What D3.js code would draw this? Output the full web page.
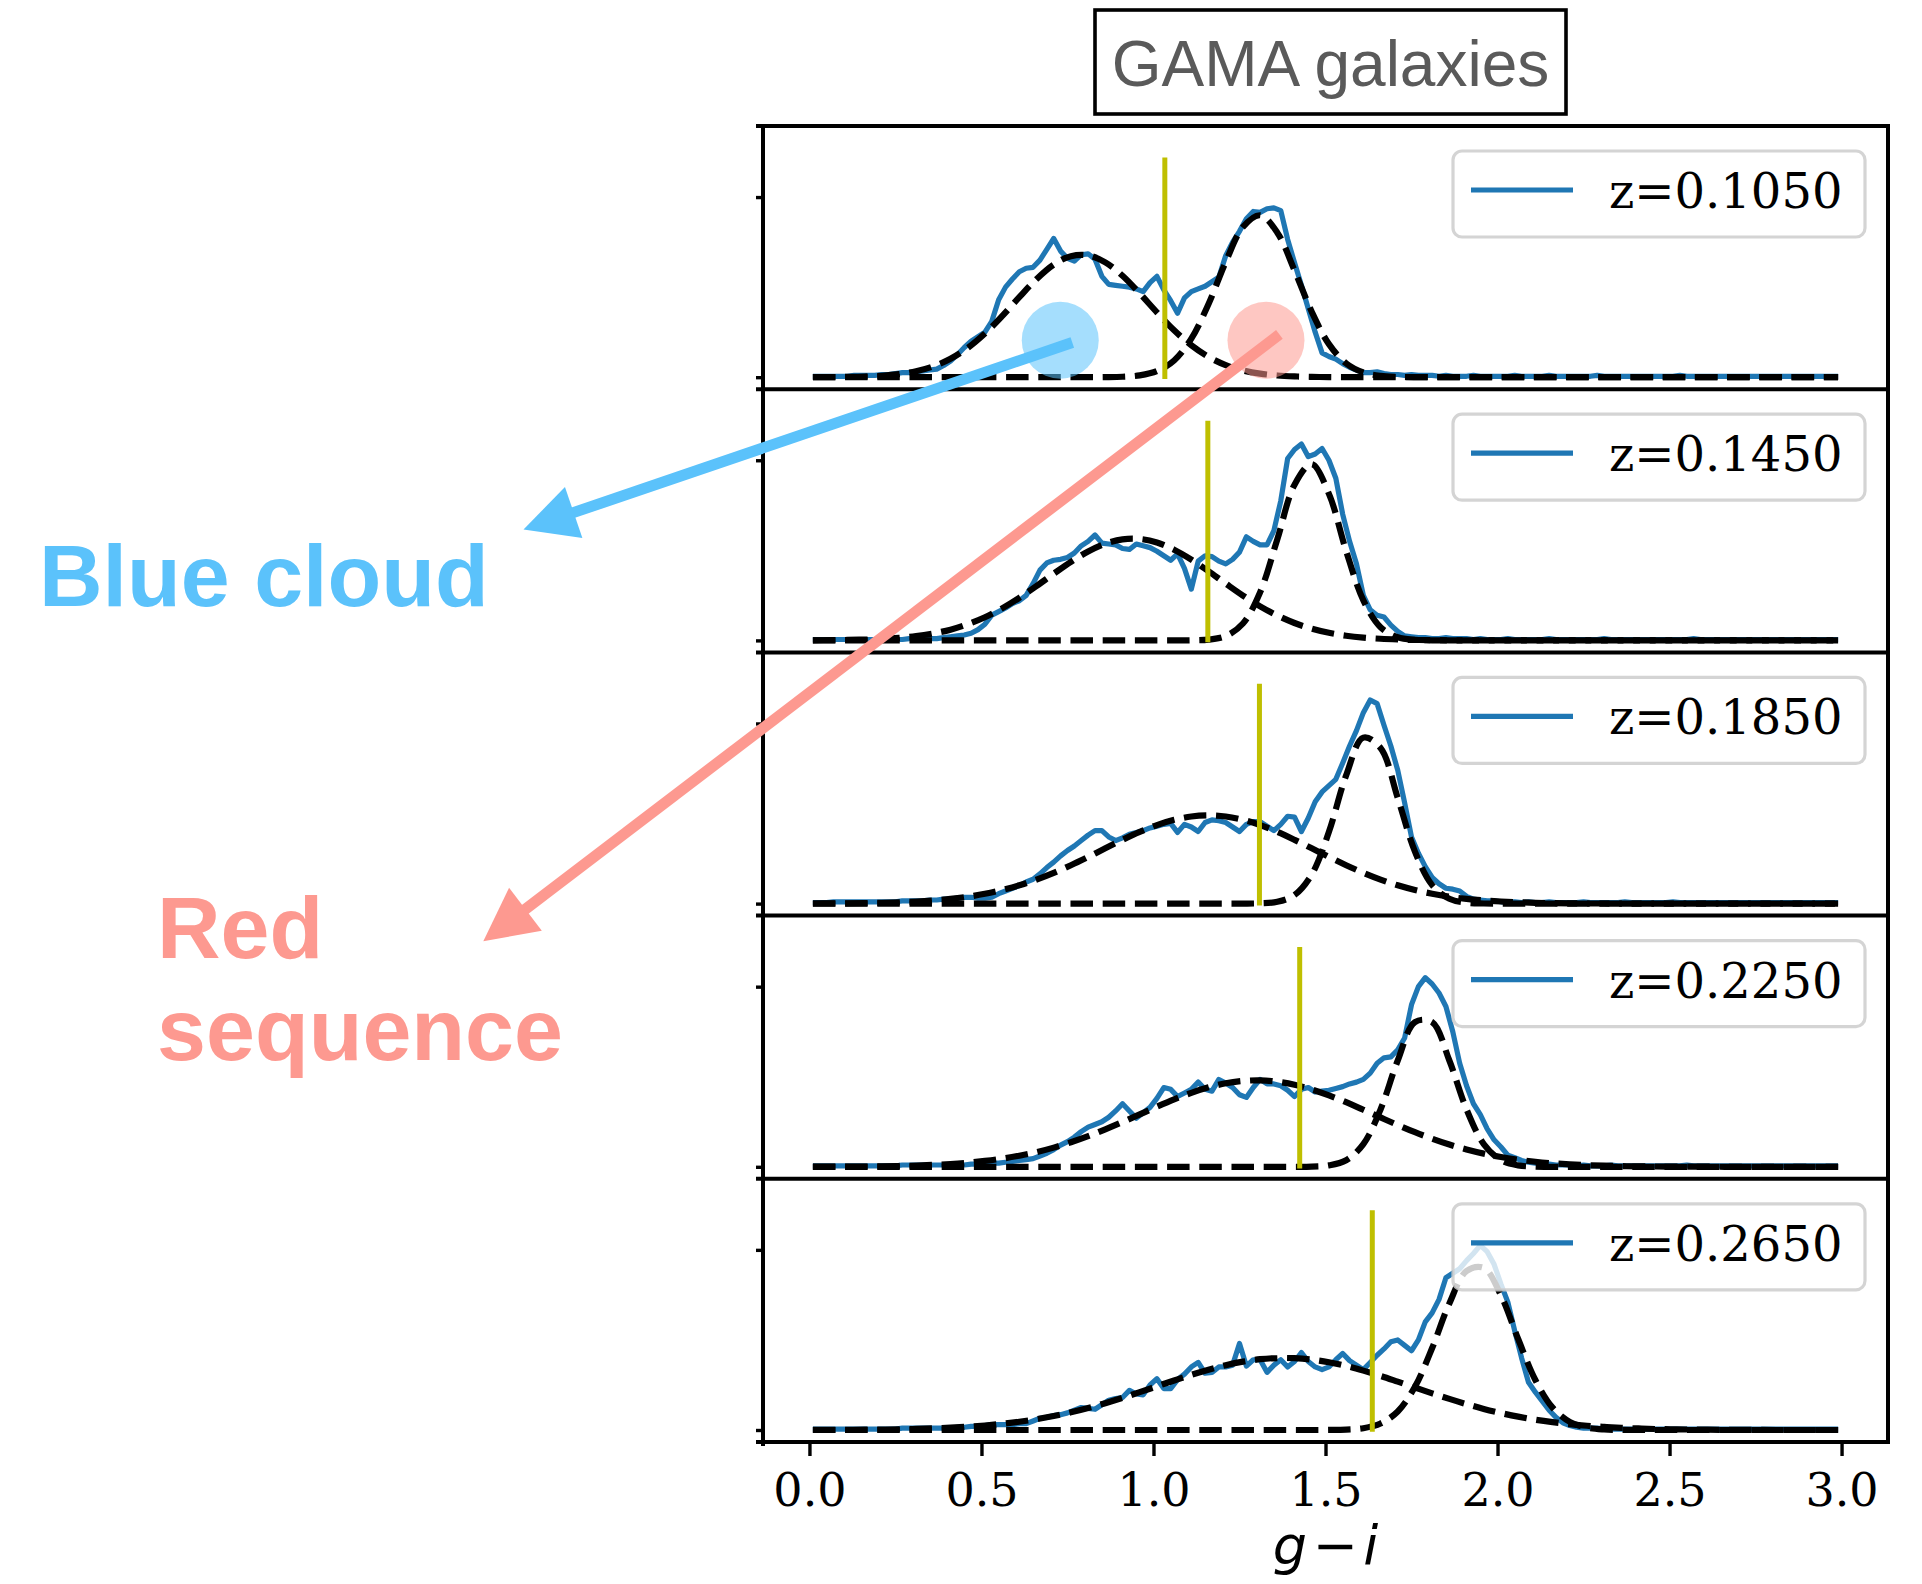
<!DOCTYPE html>
<html>
<head>
<meta charset="utf-8">
<script src="https://cdn.jsdelivr.net/npm/d3@7"></script>
<style>
  html, body { margin: 0; padding: 0; background: #ffffff; }
  svg { display: block; }
</style>
</head>
<body>
<svg id="fig" width="1922" height="1584"></svg>
<script>
// ---------------------------------------------------------------
// GAMA g-i colour distributions in five redshift slices
// ---------------------------------------------------------------

// redshift of each slice (legend labels)
const redshifts = ["0.1050", "0.1450", "0.1850", "0.2250", "0.2650"];

// colour cut separating blue cloud and red sequence, one per slice
const colourCut = [1.033, 1.158, 1.308, 1.425, 1.636];

// axis ticks
const xTicks = [0, 0.5, 1.0, 1.5, 2.0, 2.5, 3.0];
const yTicks = [0, 2];

// normalised g-i histograms, bin centres 0.01 ... 2.99 (width 0.02)
const histP1 = [
  0.01,0.01,0.01,0.01,0.01,0.01,0.02,0.02,0.02,0.02,
  0.03,0.03,0.04,0.05,0.05,0.06,0.07,0.08,0.09,0.13,
  0.18,0.25,0.33,0.40,0.45,0.50,0.62,0.86,1.00,1.09,
  1.17,1.21,1.22,1.30,1.42,1.54,1.40,1.32,1.29,1.36,
  1.37,1.31,1.12,1.03,1.02,1.01,1.00,0.98,0.95,1.05,
  1.12,0.97,0.85,0.71,0.88,0.95,0.98,1.01,1.06,1.11,
  1.35,1.50,1.62,1.76,1.84,1.83,1.87,1.88,1.85,1.53,
  1.27,1.02,0.76,0.50,0.27,0.23,0.20,0.15,0.11,0.08,
  0.05,0.05,0.06,0.04,0.03,0.03,0.02,0.03,0.02,0.02,
  0.02,0.01,0.02,0.01,0.01,0.01,0.02,0.01,0.01,0.01,
  0.01,0.01,0.02,0.01,0.01,0.01,0.01,0.02,0.01,0.01,
  0.01,0.01,0.01,0.01,0.02,0.01,0.01,0.01,0.01,0.01,
  0.01,0.01,0.01,0.01,0.01,0.01,0.02,0.01,0.01,0.01,
  0.01,0.01,0.01,0.01,0.01,0.01,0.01,0.01,0.01,0.01,
  0.01,0.01,0.01,0.01,0.01,0.01,0.01,0.01,0.01,0.01
];
const histP2 = [
  0.01,0.01,0.01,0.01,0.01,0.01,0.01,0.01,0.01,0.01,
  0.01,0.01,0.01,0.01,0.02,0.02,0.02,0.02,0.02,0.03,
  0.04,0.05,0.06,0.08,0.12,0.18,0.28,0.32,0.36,0.41,
  0.44,0.50,0.63,0.78,0.86,0.89,0.90,0.92,0.97,1.05,
  1.10,1.17,1.08,1.07,1.06,1.02,1.01,1.07,1.05,1.03,
  0.99,0.94,0.89,0.96,0.80,0.57,0.88,0.94,0.93,0.88,
  0.85,0.90,0.98,1.15,1.10,1.06,1.06,1.22,1.55,2.02,
  2.12,2.18,2.04,2.07,2.13,2.00,1.80,1.40,1.10,0.85,
  0.50,0.34,0.28,0.26,0.17,0.10,0.05,0.04,0.03,0.03,
  0.02,0.02,0.03,0.02,0.02,0.02,0.01,0.02,0.01,0.01,
  0.01,0.02,0.01,0.01,0.01,0.01,0.01,0.02,0.01,0.01,
  0.01,0.01,0.01,0.01,0.01,0.02,0.01,0.01,0.01,0.01,
  0.01,0.01,0.01,0.01,0.01,0.01,0.01,0.01,0.02,0.01,
  0.01,0.01,0.01,0.01,0.01,0.01,0.01,0.01,0.01,0.01,
  0.01,0.01,0.01,0.01,0.01,0.01,0.01,0.01,0.01,0.01
];
const histP3 = [
  0.01,0.01,0.01,0.02,0.02,0.02,0.02,0.02,0.02,0.02,
  0.02,0.02,0.02,0.03,0.03,0.03,0.03,0.04,0.04,0.05,
  0.05,0.06,0.07,0.07,0.06,0.06,0.07,0.11,0.14,0.17,
  0.20,0.24,0.27,0.33,0.40,0.46,0.53,0.59,0.64,0.70,
  0.76,0.81,0.81,0.74,0.70,0.73,0.77,0.79,0.81,0.84,
  0.86,0.88,0.89,0.79,0.88,0.85,0.80,0.90,0.93,0.92,
  0.90,0.85,0.80,0.88,0.91,0.91,0.86,0.81,0.88,0.97,
  0.96,0.80,0.95,1.13,1.24,1.31,1.38,1.56,1.75,1.92,
  2.12,2.26,2.22,1.98,1.75,1.48,1.12,0.74,0.56,0.41,
  0.29,0.22,0.17,0.16,0.14,0.08,0.05,0.04,0.03,0.03,
  0.02,0.02,0.02,0.01,0.02,0.01,0.01,0.02,0.01,0.01,
  0.01,0.01,0.02,0.01,0.01,0.01,0.01,0.01,0.02,0.01,
  0.01,0.01,0.01,0.01,0.01,0.02,0.01,0.01,0.01,0.01,
  0.01,0.01,0.01,0.01,0.01,0.01,0.01,0.01,0.01,0.01,
  0.01,0.01,0.01,0.01,0.01,0.01,0.01,0.01,0.01,0.01
];
const histP4 = [
  0.01,0.01,0.01,0.01,0.01,0.01,0.01,0.01,0.01,0.01,
  0.01,0.01,0.01,0.02,0.02,0.02,0.02,0.02,0.02,0.02,
  0.02,0.02,0.02,0.03,0.03,0.03,0.04,0.04,0.05,0.06,
  0.07,0.08,0.09,0.12,0.15,0.19,0.24,0.28,0.33,0.39,
  0.44,0.47,0.50,0.55,0.62,0.70,0.62,0.54,0.60,0.66,
  0.76,0.88,0.86,0.78,0.82,0.86,0.94,0.86,0.84,0.97,
  0.93,0.88,0.80,0.77,0.88,0.97,0.92,0.92,0.90,0.85,
  0.78,0.86,0.88,0.83,0.84,0.85,0.87,0.89,0.92,0.94,
  0.97,1.04,1.15,1.21,1.22,1.30,1.43,1.80,2.00,2.10,
  2.03,1.93,1.78,1.50,1.15,0.90,0.70,0.58,0.42,0.30,
  0.22,0.13,0.10,0.07,0.05,0.04,0.03,0.03,0.02,0.02,
  0.02,0.01,0.02,0.01,0.01,0.01,0.02,0.01,0.01,0.01,
  0.01,0.01,0.01,0.01,0.01,0.01,0.01,0.02,0.01,0.01,
  0.01,0.01,0.01,0.01,0.01,0.01,0.01,0.01,0.01,0.01,
  0.01,0.01,0.01,0.01,0.01,0.01,0.01,0.01,0.01,0.01
];
const histP5 = [
  0.01,0.01,0.01,0.01,0.01,0.01,0.01,0.01,0.01,0.01,
  0.01,0.01,0.01,0.02,0.02,0.02,0.02,0.02,0.02,0.02,
  0.02,0.03,0.03,0.04,0.04,0.05,0.06,0.06,0.06,0.06,
  0.07,0.07,0.10,0.13,0.14,0.16,0.17,0.19,0.22,0.25,
  0.24,0.23,0.28,0.33,0.35,0.36,0.44,0.40,0.39,0.50,
  0.57,0.46,0.46,0.56,0.62,0.70,0.75,0.63,0.64,0.70,
  0.70,0.72,0.96,0.71,0.78,0.78,0.64,0.72,0.78,0.70,
  0.76,0.86,0.76,0.70,0.67,0.70,0.78,0.85,0.77,0.72,
  0.67,0.75,0.83,0.90,0.98,1.00,0.94,0.88,1.00,1.20,
  1.30,1.45,1.69,1.74,1.79,1.88,1.96,2.05,1.98,1.84,
  1.62,1.42,1.10,0.80,0.53,0.42,0.32,0.22,0.14,0.08,
  0.05,0.03,0.02,0.02,0.02,0.01,0.01,0.01,0.01,0.01,
  0.01,0.01,0.01,0.01,0.01,0.01,0.01,0.01,0.01,0.01,
  0.01,0.01,0.01,0.01,0.01,0.01,0.01,0.01,0.01,0.01,
  0.01,0.01,0.01,0.01,0.01,0.01,0.01,0.01,0.01,0.01
];

// fitted components sampled at g-i = 0.01, 0.06, ... 2.96, 2.99
const cloudP1 = [
  0.000,0.001,0.003,0.007,0.016,0.034,0.066,0.120,0.204,0.325,
  0.485,0.678,0.888,1.089,1.250,1.344,1.353,1.275,1.126,0.930,
  0.720,0.521,0.354,0.225,0.134,0.075,0.039,0.019,0.009,0.004,
  0.001,0,0,0,0,0,0,0,0,0,
  0,0,0,0,0,0,0,0,0,0,
  0,0,0,0,0,0,0,0,0,0,
  0
];
const seqP1 = [
  0,0,0,0,0,0,0,0,0,0,
  0,0,0,0,0,0,0,0.001,0.005,0.020,
  0.067,0.186,0.428,0.813,1.280,1.667,1.798,1.605,1.186,0.726,
  0.367,0.154,0.053,0.015,0.004,0.001,0,0,0,0,
  0,0,0,0,0,0,0,0,0,0,
  0,0,0,0,0,0,0,0,0,0,
  0
];
const cloudP2 = [
  0.001,0.002,0.005,0.009,0.016,0.028,0.047,0.077,0.119,0.180,
  0.257,0.356,0.473,0.604,0.740,0.872,0.987,1.074,1.122,1.126,
  1.087,1.007,0.897,0.767,0.631,0.498,0.378,0.276,0.193,0.130,
  0.084,0.052,0.031,0.018,0.010,0.005,0.003,0.001,0,0,
  0,0,0,0,0,0,0,0,0,0,
  0,0,0,0,0,0,0,0,0,0,
  0
];
const seqP2 = [
  0,0,0,0,0,0,0,0,0,0,
  0,0,0,0,0,0,0,0,0,0,
  0,0,0.001,0.009,0.048,0.187,0.535,1.123,1.729,1.957,
  1.627,0.992,0.445,0.146,0.035,0.006,0.001,0,0,0,
  0,0,0,0,0,0,0,0,0,0,
  0,0,0,0,0,0,0,0,0,0,
  0
];
const cloudP3 = [
  0.001,0.002,0.003,0.005,0.009,0.015,0.023,0.035,0.052,0.076,
  0.109,0.151,0.203,0.267,0.342,0.426,0.518,0.614,0.708,0.796,
  0.872,0.930,0.967,0.980,0.967,0.930,0.872,0.796,0.708,0.614,
  0.518,0.426,0.342,0.267,0.203,0.151,0.109,0.076,0.052,0.035,
  0.023,0.015,0.009,0.005,0.003,0.002,0.001,0,0,0,
  0,0,0,0,0,0,0,0,0,0,
  0
];
const seqP3 = [
  0,0,0,0,0,0,0,0,0,0,
  0,0,0,0,0,0,0,0,0,0,
  0,0,0,0,0,0,0.003,0.020,0.095,0.323,
  0.797,1.423,1.843,1.728,1.173,0.577,0.205,0.053,0.010,0.001,
  0,0,0,0,0,0,0,0,0,0,
  0,0,0,0,0,0,0,0,0,0,
  0
];
const cloudP4 = [
  0.001,0.001,0.002,0.003,0.006,0.009,0.014,0.021,0.031,0.045,
  0.065,0.090,0.123,0.163,0.213,0.272,0.340,0.416,0.497,0.582,
  0.667,0.748,0.821,0.882,0.927,0.953,0.960,0.945,0.911,0.859,
  0.793,0.717,0.633,0.548,0.464,0.384,0.312,0.247,0.192,0.146,
  0.108,0.079,0.056,0.039,0.027,0.018,0.012,0.007,0.005,0.003,
  0.002,0.001,0.001,0,0,0,0,0,0,0,
  0
];
const seqP4 = [
  0,0,0,0,0,0,0,0,0,0,
  0,0,0,0,0,0,0,0,0,0,
  0,0,0,0,0,0,0,0,0,0.002,
  0.016,0.073,0.252,0.637,1.180,1.607,1.607,1.180,0.637,0.252,
  0.073,0.016,0.002,0,0,0,0,0,0,0,
  0,0,0,0,0,0,0,0,0,0,
  0
];
const cloudP5 = [
  0.001,0.001,0.002,0.003,0.005,0.008,0.012,0.018,0.026,0.036,
  0.050,0.069,0.092,0.120,0.155,0.196,0.244,0.298,0.357,0.420,
  0.485,0.550,0.613,0.670,0.720,0.759,0.786,0.799,0.797,0.782,
  0.752,0.711,0.659,0.601,0.537,0.472,0.407,0.345,0.287,0.234,
  0.188,0.148,0.114,0.087,0.065,0.047,0.034,0.024,0.017,0.011,
  0.008,0.005,0.003,0.002,0.001,0.001,0,0,0,0,
  0
];
const seqP5 = [
  0,0,0,0,0,0,0,0,0,0,
  0,0,0,0,0,0,0,0,0,0,
  0,0,0,0,0,0,0,0,0,0,
  0.001,0.005,0.020,0.072,0.206,0.480,0.910,1.405,1.764,1.800,
  1.495,1.010,0.555,0.248,0.090,0.027,0.006,0.001,0,0,
  0,0,0,0,0,0,0,0,0,0,
  0
];

// height of the colour-cut marker
const cutTop = 2.44;

// ---------------------------------------------------------------
// layout and styles
// ---------------------------------------------------------------
const PLOT = { left: 763, right: 1888, top: 126, panelH: 263.2 };
const Y_DOMAIN = [-0.1333, 2.789];
const COLORS = { data: "#1f77b4", fit: "#000000", cut: "#bfbf00",
                 cloud: "#5bc2fb", seq: "#fd9990" };

const svg = d3.select("#fig");
const x = d3.scaleLinear().domain([-0.135, 3.135]).range([PLOT.left, PLOT.right]);
const histX = d3.range(150).map(i => +(0.01 + 0.02 * i).toFixed(2));
const fitX = d3.range(60).map(i => +(0.01 + 0.05 * i).toFixed(2)).concat([2.99]);

const panels = [
  { z: redshifts[0], hist: histP1, cloud: cloudP1, seq: seqP1, cut: colourCut[0] },
  { z: redshifts[1], hist: histP2, cloud: cloudP2, seq: seqP2, cut: colourCut[1] },
  { z: redshifts[2], hist: histP3, cloud: cloudP3, seq: seqP3, cut: colourCut[2] },
  { z: redshifts[3], hist: histP4, cloud: cloudP4, seq: seqP4, cut: colourCut[3] },
  { z: redshifts[4], hist: histP5, cloud: cloudP5, seq: seqP5, cut: colourCut[4] }
];

const panelScale = k => d3.scaleLinear()
  .domain(Y_DOMAIN)
  .range([PLOT.top + (k + 1) * PLOT.panelH, PLOT.top + k * PLOT.panelH]);

const yScales = panels.map((p, k) => panelScale(k));

panels.forEach((p, k) => {
  const y = yScales[k];
  const top = PLOT.top + k * PLOT.panelH;
  const g = svg.append("g").attr("class", "panel");

  // measured distribution
  g.append("path")
    .datum(p.hist)
    .attr("d", d3.line().x((d, i) => x(histX[i])).y(d => y(d)))
    .attr("fill", "none")
    .attr("stroke", COLORS.data)
    .attr("stroke-width", 5.2)
    .attr("stroke-linejoin", "round");

  // two fitted components
  const fitLine = d3.line()
    .x((d, i) => x(fitX[i]))
    .y(d => y(d))
    .curve(d3.curveCatmullRom);
  [p.cloud, p.seq].forEach(comp => {
    g.append("path")
      .datum(comp)
      .attr("d", fitLine)
      .attr("fill", "none")
      .attr("stroke", COLORS.fit)
      .attr("stroke-width", 6.2)
      .attr("stroke-dasharray", "22.5,9.7")
      .attr("stroke-linejoin", "round");
  });

  // colour cut
  g.append("line")
    .attr("x1", x(p.cut)).attr("x2", x(p.cut))
    .attr("y1", y(-0.02)).attr("y2", y(cutTop))
    .attr("stroke", COLORS.cut)
    .attr("stroke-width", 5);

  // left ticks (no labels)
  const ax = g.append("g")
    .attr("transform", `translate(${PLOT.left},0)`)
    .call(d3.axisLeft(y).tickValues(yTicks).tickSize(7).tickFormat(() => ""));
  ax.select(".domain").remove();
  ax.selectAll(".tick line").attr("stroke", "#000").attr("stroke-width", 3.4);

  // legend
  const lgW = 412, lgH = 86;
  const lgX = PLOT.right - 23 - lgW, lgY = top + 25;
  const lg = g.append("g").attr("class", "legend");
  lg.append("rect")
    .attr("x", lgX).attr("y", lgY).attr("width", lgW).attr("height", lgH)
    .attr("rx", 9).attr("ry", 9)
    .attr("fill", "#ffffff").attr("fill-opacity", 0.8)
    .attr("stroke", "#cccccc").attr("stroke-opacity", 0.85).attr("stroke-width", 3.2);
  lg.append("line")
    .attr("x1", lgX + 18).attr("x2", lgX + 120)
    .attr("y1", lgY + 39).attr("y2", lgY + 39)
    .attr("stroke", COLORS.data).attr("stroke-width", 5.2);
  lg.append("text")
    .attr("x", lgX + 156).attr("y", lgY + 57)
    .attr("font-family", "'DejaVu Serif', serif")
    .attr("font-size", 48)
    .attr("fill", "#000")
    .text("z=" + p.z);
});

// frames of the stacked panels
const frame = svg.append("g").attr("class", "frame")
  .attr("stroke", "#000").attr("stroke-width", 4).attr("fill", "none");
d3.range(panels.length + 1).forEach(k => {
  const yy = PLOT.top + k * PLOT.panelH;
  frame.append("line").attr("x1", PLOT.left - 7).attr("x2", PLOT.right + 2)
    .attr("y1", yy).attr("y2", yy);
});
const bottomY = PLOT.top + panels.length * PLOT.panelH;
frame.append("line").attr("x1", PLOT.left).attr("x2", PLOT.left)
  .attr("y1", PLOT.top - 2).attr("y2", bottomY + 4);
frame.append("line").attr("x1", PLOT.right).attr("x2", PLOT.right)
  .attr("y1", PLOT.top - 2).attr("y2", bottomY + 2);

// shared g-i axis
const xa = svg.append("g")
  .attr("transform", `translate(0,${bottomY})`)
  .call(d3.axisBottom(x).tickValues(xTicks).tickSize(14).tickFormat(d3.format(".1f")));
xa.select(".domain").remove();
xa.selectAll(".tick line").attr("stroke", "#000").attr("stroke-width", 3.4);
xa.selectAll(".tick text")
  .attr("y", 64).attr("dy", null)
  .attr("fill", "#000")
  .attr("font-family", "'DejaVu Serif', serif")
  .attr("font-size", 46);

const xLabel = svg.append("text")
  .attr("x", (PLOT.left + PLOT.right) / 2)
  .attr("y", 1564)
  .attr("text-anchor", "middle")
  .attr("font-family", "'DejaVu Sans', sans-serif")
  .attr("font-size", 54)
  .attr("fill", "#000");
xLabel.append("tspan").attr("font-style", "italic").text("g");
xLabel.append("tspan").attr("dx", "0.1em").text("\u2212");
xLabel.append("tspan").attr("dx", "0.1em").attr("font-style", "italic").text("i");

// title box
svg.append("rect")
  .attr("x", 1095).attr("y", 10).attr("width", 471).attr("height", 104)
  .attr("fill", "#ffffff").attr("stroke", "#000").attr("stroke-width", 3.6);
svg.append("text")
  .attr("x", 1330.5).attr("y", 86)
  .attr("text-anchor", "middle")
  .attr("font-family", "'Liberation Sans', Arial, Helvetica, sans-serif")
  .attr("font-size", 64)
  .attr("fill", "#5a5a5a")
  .text("GAMA galaxies");

// ---------------------------------------------------------------
// population call-outs: halo on the first panel, arrow to a label
// ---------------------------------------------------------------
const calloutNames = [["Blue cloud"], ["Red", "sequence"]];
const calloutAnchor = [[0.729, 0.41], [1.327, 0.41]];   // g-i, density in slice 1
const calloutTail = [[0.764, 0.385], [1.366, 0.475]];
const calloutStyle = [
  { color: COLORS.cloud, tip: [523.5, 529.6], text: [39, 606] },
  { color: COLORS.seq,   tip: [483.3, 941.3], text: [157, 958] }
];
const y1 = yScales[0];
const overlay = svg.append("g").attr("class", "callouts");

calloutNames.forEach((lines, i) => {
  const st = calloutStyle[i];
  overlay.append("circle")
    .attr("cx", x(calloutAnchor[i][0])).attr("cy", y1(calloutAnchor[i][1]))
    .attr("r", 38.5)
    .attr("fill", st.color).attr("fill-opacity", 0.55);

  const tx = x(calloutTail[i][0]), ty = y1(calloutTail[i][1]);
  const [px, py] = st.tip;
  const len = Math.hypot(px - tx, py - ty);
  const ux = (px - tx) / len, uy = (py - ty) / len;
  const headL = 53, headW = 27;
  const bx = px - ux * headL, by = py - uy * headL;
  overlay.append("line")
    .attr("x1", tx).attr("y1", ty).attr("x2", bx + ux * 2).attr("y2", by + uy * 2)
    .attr("stroke", st.color).attr("stroke-width", 11);
  overlay.append("polygon")
    .attr("points", [
      [px, py],
      [bx - uy * headW, by + ux * headW],
      [bx + uy * headW, by - ux * headW]
    ].map(p => p.join(",")).join(" "))
    .attr("fill", st.color);

  const t = overlay.append("text")
    .attr("x", st.text[0]).attr("y", st.text[1])
    .attr("font-family", "'Liberation Sans', Arial, Helvetica, sans-serif")
    .attr("font-weight", "bold")
    .attr("font-size", 88)
    .attr("fill", st.color);
  lines.forEach((ln, j) => {
    t.append("tspan").attr("x", st.text[0]).attr("dy", j === 0 ? 0 : 102).text(ln);
  });
});
</script>
</body>
</html>
